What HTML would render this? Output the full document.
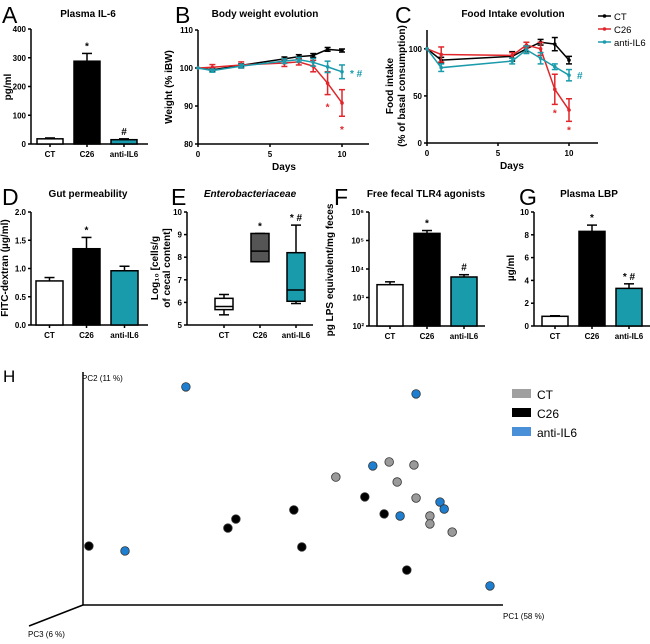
<!DOCTYPE html>
<html><head><meta charset="utf-8"><style>
html,body{margin:0;padding:0;background:#fff;}
svg{display:block;font-family:"Liberation Sans",Arial,sans-serif;}
.t{font-weight:bold;font-size:10px;}
.tk{font-weight:bold;font-size:8px;}
.lt{font-size:23px;}
</style></head><body>
<svg id="fig" width="650" height="644" viewBox="0 0 650 644"></svg>
<script>
// ---------- data ----------
const barCats = ["CT","C26","anti-IL6"];
const il6Vals = [18, 288, 15];
const il6Err = [3, 27, 3];
const gutVals = [0.78, 1.35, 0.96];
const gutErr = [0.06, 0.2, 0.08];
const tlrLogVals = [3.45, 5.25, 3.72];
const tlrLogErr = [0.1, 0.1, 0.08];
const lbpVals = [0.85, 8.3, 3.3];
const lbpErr = [0.05, 0.55, 0.4];
const bwDays = [0,1,3,6,7,8,9,10];
const bwCT = [100,99.5,100.7,102.4,103,103.3,104.9,104.6];
const bwCTErr = [0,0.4,0.4,0.5,0.5,0.5,0.5,0.4];
const bwC26 = [100,100.2,100.8,101.3,101.6,100.5,96,90.8];
const bwC26Err = [0,0.7,0.8,0.9,0.8,1.5,3,3.5];
const bwAnti = [100,99.3,100.5,101.8,102.2,101.5,100.3,99];
const bwAntiErr = [0,0.4,0.5,0.6,0.6,1,1.5,1.8];
const fiDays = [0,1,6,7,8,9,10];
const fiCT = [100,88,92,100,107,105,88];
const fiCTErr = [0,3,5,3,3,7,4];
const fiC26 = [100,94,93,104,100,57,35];
const fiC26Err = [0,8,3,3,7,16,12];
const fiAnti = [100,80,87,99,90,81,72];
const fiAntiErr = [0,4,3,4,6,3,6];
const entMin = [5.45,7.8,5.95];
const entQ1 = [5.68,7.8,6.05];
const entMed = [5.82,8.27,6.55];
const entQ3 = [6.18,9.05,8.2];
const entMax = [6.35,9.05,9.42];
const pcaGroup = ["anti","C26","anti","C26","C26","C26","C26","anti","anti","CT","CT","CT","CT","C26","CT","anti","anti","C26","anti","CT","CT","CT","C26","anti"];
const pc1 = [24.5,1.4,10,36.4,34.5,50.2,52.1,79.3,69,72.9,78.8,60.2,74.8,67.1,79.3,85,86,71.7,75.5,82.6,82.6,87.9,77.1,96.9];
const pc2 = [93.6,25.3,23.2,36.9,33,40.8,24.9,90.6,59.7,61.4,60.1,54.9,52.8,46.4,45.9,44.2,41.2,39.1,38.2,38.2,34.8,31.3,15,8.2];

const TEAL="#1a9bab", RED="#e0262a";
const svg=document.getElementById('fig');
const NS="http://www.w3.org/2000/svg";
function el(tag,attrs,parent,txt){const e=document.createElementNS(NS,tag);for(const k in attrs)e.setAttribute(k,attrs[k]);if(txt!==undefined)e.textContent=txt;(parent||svg).appendChild(e);return e;}
function grp(name){const g=el('g',{});return g;}
function txt(g,x,y,s,cls,name,anchor,extra){const t=el('text',Object.assign({x:x,y:y,class:cls,'text-anchor':anchor||'middle'},extra||{}),g,s);return t;}
function line(g,x1,y1,x2,y2,c,w){return el('line',{x1:x1,y1:y1,x2:x2,y2:y2,stroke:c||'#000','stroke-width':w||1.5},g);}
function ylab(g,x,y,s,name,fs){const t=txt(g,x,y,s,'t',name,'middle',{transform:`rotate(-90 ${x} ${y})`});t.setAttribute('font-size',fs||'9');return t;}

function axes(g,ax){
  line(g,ax.x0,ax.yTop,ax.x0,ax.yBot);
  line(g,ax.x0,ax.yBot,ax.xEnd,ax.yBot);
}
function yTicks(g,x0,ticks,ys,labels){
  ticks.forEach((v,i)=>{const y=ys(v);line(g,x0-3,y,x0,y);txt(g,x0-5,y+3,labels?labels[i]:String(v),'tk','y-tick-label','end');});
}
function barPanel(name,vals,errs,x0,xEnd,yTop,yBot,vmin,vmax,ticks,tickLabels,bx,bw,fills,notes){
  const g=grp(name);
  const ys=v=>yBot-(v-vmin)/(vmax-vmin)*(yBot-yTop);
  axes(g,{x0:x0,xEnd:xEnd,yTop:yTop,yBot:yBot});
  yTicks(g,x0,ticks,ys,tickLabels);
  vals.forEach((v,i)=>{
    const x=bx[i],top=ys(v+errs[i]);
    line(g,x+bw/2,top,x+bw/2,ys(v));line(g,x+bw/2-5,top,x+bw/2+5,top);
    const r=el('rect',{x:x,y:ys(v),width:bw,height:yBot-ys(v),fill:fills[i],stroke:'#000','stroke-width':1.5},g);
    
    
    line(g,x+bw/2,yBot,x+bw/2,yBot+3);
    txt(g,x+bw/2,yBot+13,barCats[i],'tk','x-tick-label');
    if(notes[i])txt(g,x+bw/2,top-4,notes[i],'t','significance-mark');
  });
  return g;
}
// A
let gA=barPanel('panel-a-plasma-il6',il6Vals,il6Err,31,148,29,144,0,400,[0,100,200,300,400],null,[37,74,111],26,['#fff','#000',TEAL],['','*','#']);
txt(gA,88,17,'Plasma IL-6','t','chart-title-a');ylab(gA,11,87,'pg/ml','y-axis-title-a');
txt(gA,2,23,'A','lt','panel-label-a','start');
// D
let gD=barPanel('panel-d-gut-permeability',gutVals,gutErr,31,148,212,325,0,2,[0,0.5,1,1.5,2],['0.0','0.5','1.0','1.5','2.0'],[36,73,111],27,['#fff','#000',TEAL],['','*','']);
txt(gD,88,197,'Gut permeability','t','chart-title-d');ylab(gD,8,268,'FITC-dextran (µg/ml)','y-axis-title-d','8.5');
txt(gD,2,205,'D','lt','panel-label-d','start');
// F
let gF=barPanel('panel-f-tlr4-agonists',tlrLogVals,tlrLogErr,369,485,212,326,2,6,[2,3,4,5,6],['10²','10³','10⁴','10⁵','10⁶'],[377,414,451],26,['#fff','#000',TEAL],['','*','#']);
txt(gF,426,197,'Free fecal TLR4 agonists','t','chart-title-f');ylab(gF,333,270,'pg LPS equivalent/mg feces','y-axis-title-f','8');
txt(gF,334,205,'F','lt','panel-label-f','start');
// G
let gG=barPanel('panel-g-plasma-lbp',lbpVals,lbpErr,534,650,212,326,0,10,[0,2,4,6,8,10],null,[542,579,616],26,['#fff','#000',TEAL],['','*','* #']);
txt(gG,589,197,'Plasma LBP','t','chart-title-g');ylab(gG,514,268,'µg/ml','y-axis-title-g');
txt(gG,519,205,'G','lt','panel-label-g','start');

// E boxplot
(function(){
  const g=grp('panel-e-enterobacteriaceae');
  const x0=187,yTop=212,yBot=325,ys=v=>yBot-(v-5)/5*(yBot-yTop);
  axes(g,{x0:x0,xEnd:313,yTop:yTop,yBot:yBot});
  yTicks(g,x0,[5,6,7,8,9,10],ys);
  const bx=[215,251,287],bw=18,fills=['#fff','#555',TEAL],notes=['','*','* #'];
  barCats.forEach((c,i)=>{
    const cx=bx[i]+bw/2;
    line(g,cx,ys(entMax[i]),cx,ys(entMin[i]));
    line(g,cx-5,ys(entMax[i]),cx+5,ys(entMax[i]));line(g,cx-5,ys(entMin[i]),cx+5,ys(entMin[i]));
    const r=el('rect',{x:bx[i],y:ys(entQ3[i]),width:bw,height:ys(entQ1[i])-ys(entQ3[i]),fill:fills[i],stroke:'#000','stroke-width':1.5},g);
    
    
    line(g,bx[i],ys(entMed[i]),bx[i]+bw,ys(entMed[i]));
    line(g,cx,yBot,cx,yBot+3);
    txt(g,cx,yBot+13,c,'tk','x-tick-label');
    if(notes[i])txt(g,cx,ys(entMax[i])-4,notes[i],'t','significance-mark');
  });
  const tt=txt(g,250,197,'Enterobacteriaceae','t','chart-title-e');tt.setAttribute('font-style','italic');
  ylab(g,158,268,'Log₁₀  [cells/g','y-axis-title-e');
  ylab(g,170,268,'of cecal content]','y-axis-title-e-line2');
  txt(g,171,205,'E','lt','panel-label-e','start');
})();

// line panels
function linePanel(name,days,series,errs,colors,x0,xEnd,yTop,yBot,xmax,vmin,vmax,ticks){
  const g=grp(name);
  const xs=d=>x0+d/xmax*(xEnd-x0), ys=v=>yBot-(v-vmin)/(vmax-vmin)*(yBot-yTop);
  axes(g,{x0:x0,xEnd:xEnd+(name.includes('weight')?27:29),yTop:yTop,yBot:yBot});
  yTicks(g,x0,ticks,ys);
  [0,5,10].forEach(d=>{line(g,xs(d),yBot,xs(d),yBot+3);txt(g,xs(d),yBot+13,String(d),'tk','x-tick-label');});
  series.forEach((s,k)=>{
    const pts=s.map((v,i)=>xs(days[i])+','+ys(v)).join(' ');
    const p=el('polyline',{points:pts,fill:'none',stroke:colors[k],'stroke-width':1.5},g);
    
    
    s.forEach((v,i)=>{const x=xs(days[i]),e=errs[k][i];
      if(e>0){line(g,x,ys(v-e),x,ys(v+e),colors[k],1.5);line(g,x-3,ys(v+e),x+3,ys(v+e),colors[k],1.5);line(g,x-3,ys(v-e),x+3,ys(v-e),colors[k],1.5);}
      el('circle',{cx:x,cy:ys(v),r:1.8,fill:colors[k]},g);});
  });
  txt(g,(x0+xEnd)/2+14,yBot+26,'Days','t','x-axis-title');
  return {g:g,xs:xs,ys:ys};
}
let B=linePanel('panel-b-body-weight',bwDays,[bwCT,bwC26,bwAnti],[bwCTErr,bwC26Err,bwAntiErr],['#000',RED,TEAL],198,342,30,144,10,80,110,[80,90,100,110]);
txt(B.g,265,17,'Body weight evolution','t','chart-title-b');ylab(B.g,172,87,'Weight (% iBW)','y-axis-title-b');
txt(B.g,175,23,'B','lt','panel-label-b','start');
[[9,bwC26[6]-bwC26Err[6]-2.6],[10,bwC26[7]-bwC26Err[7]-2.8]].forEach(a=>{const t=txt(B.g,B.xs(a[0]),B.ys(a[1])+6,'*','t','significance-mark');t.setAttribute('fill',RED);});
{const t=txt(B.g,B.xs(10)+8,B.ys(bwAnti[7])+5,'* #','t','significance-mark','start');t.setAttribute('fill',TEAL);}

let C=linePanel('panel-c-food-intake',fiDays,[fiCT,fiC26,fiAnti],[fiCTErr,fiC26Err,fiAntiErr],['#000',RED,TEAL],427,569,30,143,10,0,120,[0,50,100]);
txt(C.g,513,17,'Food Intake evolution','t','chart-title-c');
ylab(C.g,393,86,'Food intake','y-axis-title-c');ylab(C.g,405,86,'(% of basal consumption)','y-axis-title-c-line2');
txt(C.g,395,23,'C','lt','panel-label-c','start');
[[9,fiC26[5]-fiC26Err[5]],[10,fiC26[6]-fiC26Err[6]]].forEach(a=>{const t=txt(C.g,C.xs(a[0]),C.ys(a[1])+12,'*','t','significance-mark');t.setAttribute('fill',RED);});
{const t=txt(C.g,C.xs(10)+8,C.ys(fiAnti[6])+4,'#','t','significance-mark','start');t.setAttribute('fill',TEAL);}
// legend C
(function(){const g=grp('legend-c');[['CT','#000'],['C26',RED],['anti-IL6',TEAL]].forEach((l,i)=>{const y=16+i*13;
  line(g,598,y,611,y,l[1],1.5);el('circle',{cx:604.5,cy:y,r:1.8,fill:l[1]},g);
  const t=txt(g,614,y+4,l[0],'','legend-entry','start');t.setAttribute('font-size','9.5');});})();

// H PCA
(function(){
  const g=grp('panel-h-pca');
  const ox=83,oy=605,xs=v=>ox+v*4.2,ys=v=>oy-v*2.33;
  line(g,ox,372,ox,oy,'#000',1.5);line(g,ox,oy,503,oy,'#000',1.5);line(g,ox,oy,29,626,'#000',1.5);
  const a=txt(g,82,381,'PC2 (11 %)','','y-axis-title-pc2','start');a.setAttribute('font-size','8');
  const b=txt(g,503,619,'PC1 (58 %)','','x-axis-title-pc1','start');b.setAttribute('font-size','8');
  const c=txt(g,28,637,'PC3 (6 %)','','z-axis-title-pc3','start');c.setAttribute('font-size','8');
  txt(g,3,382,'H','','panel-label-h','start').setAttribute('font-size','17');
  const col={CT:'#9a9a9a',C26:'#000',anti:'#1e7fd0'};
  pc1.forEach((v,i)=>{
    const p=el('circle',{cx:xs(v),cy:ys(pc2[i]),r:4.3,fill:col[pcaGroup[i]],stroke:'#333','stroke-width':0.8},g);
    
    
  });
  [['CT','#a0a0a0'],['C26','#000'],['anti-IL6','#4a90d8']].forEach((l,i)=>{
    const y=394+i*19;
    el('rect',{x:512,y:y-5,width:19,height:9,fill:l[1]},g);
    const t=txt(g,537,y+5,l[0],'','legend-entry','start');t.setAttribute('font-size','12');
  });
})();
</script>
</body></html>
